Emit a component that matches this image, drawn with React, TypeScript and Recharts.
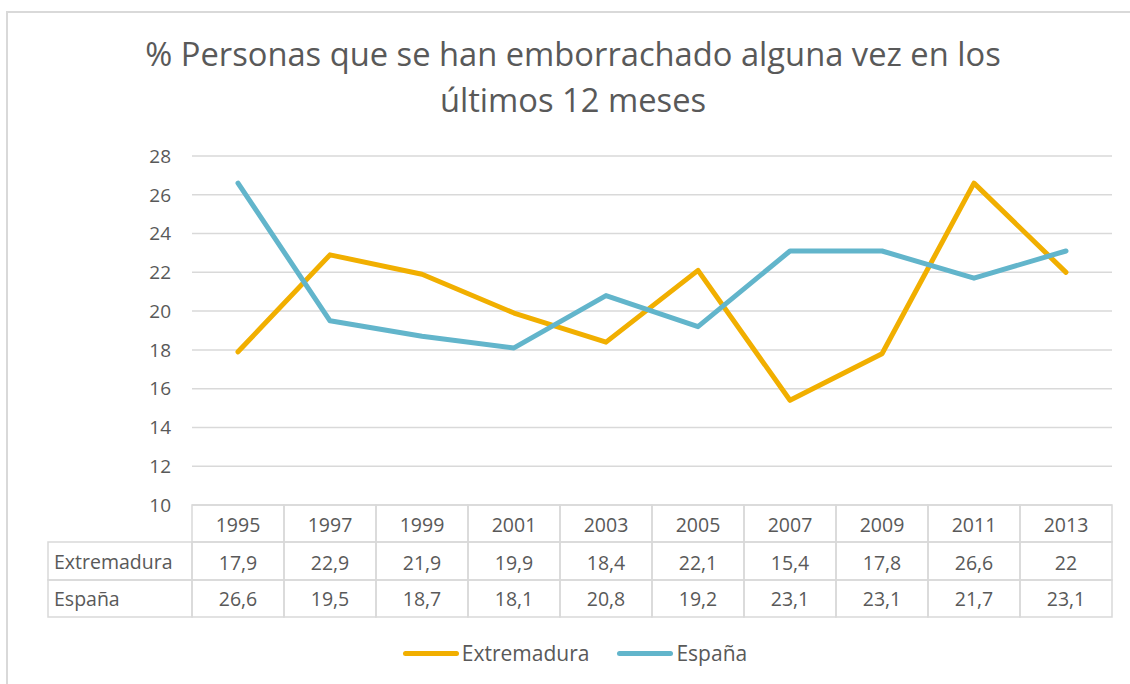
import { LineChart, Line, XAxis, YAxis, CartesianGrid, Legend } from 'recharts'

const years = ['1995', '1997', '1999', '2001', '2003', '2005', '2007', '2009', '2011', '2013']
const extremadura = [17.9, 22.9, 21.9, 19.9, 18.4, 22.1, 15.4, 17.8, 26.6, 22]
const espana = [26.6, 19.5, 18.7, 18.1, 20.8, 19.2, 23.1, 23.1, 21.7, 23.1]
const yTicks = [10, 12, 14, 16, 18, 20, 22, 24, 26, 28]

const seriesInfo = [
  { key: 'extremadura', name: 'Extremadura', color: '#F1AF00', values: extremadura },
  { key: 'espana', name: 'España', color: '#62B5CB', values: espana },
]

const data = years.map((year, i) => ({
  year,
  extremadura: extremadura[i],
  espana: espana[i],
}))

const FONT = '"Open Sans", "Noto Sans", sans-serif'
const TEXT = '#595959'
const BORDER = '#d9d9d9'
const HALF = 46
const LABEL_W = 144
const ROWS = [37, 38, 37]

const fmt = (v: number) => String(v).replace('.', ',')

// the data table drawn under the plot, one column per category tick
function TableTick(props: any) {
  const { x, y, payload } = props
  const i = payload.index
  const r1 = y + ROWS[0]
  const r2 = r1 + ROWS[1]
  const cell = { fill: 'none', stroke: BORDER, strokeWidth: 1.5 }
  const txt = { fill: TEXT, fontSize: 19.5, fontFamily: FONT, textAnchor: 'middle' as const, dominantBaseline: 'central' as const }
  return (
    <g>
      <rect x={x - HALF} y={y} width={HALF * 2} height={ROWS[0]} {...cell} />
      <rect x={x - HALF} y={r1} width={HALF * 2} height={ROWS[1]} {...cell} />
      <rect x={x - HALF} y={r2} width={HALF * 2} height={ROWS[2]} {...cell} />
      <text x={x} y={y + ROWS[0] / 2 + 1} {...txt}>{payload.value}</text>
      <text x={x} y={r1 + ROWS[1] / 2 + 1} {...txt}>{fmt(seriesInfo[0].values[i])}</text>
      <text x={x} y={r2 + ROWS[2] / 2} {...txt}>{fmt(seriesInfo[1].values[i])}</text>
      {i === 0 && (
        <g>
          <rect x={x - HALF - LABEL_W} y={r1} width={LABEL_W} height={ROWS[1]} {...cell} />
          <rect x={x - HALF - LABEL_W} y={r2} width={LABEL_W} height={ROWS[2]} {...cell} />
          <text x={x - HALF - LABEL_W + 6} y={r1 + ROWS[1] / 2} {...txt} textAnchor="start">{seriesInfo[0].name}</text>
          <text x={x - HALF - LABEL_W + 6} y={r2 + ROWS[2] / 2} {...txt} textAnchor="start">{seriesInfo[1].name}</text>
        </g>
      )}
    </g>
  )
}

function LegendContent() {
  return (
    <div style={{ display: 'flex', justifyContent: 'center', alignItems: 'center', fontFamily: FONT, fontSize: 21, color: TEXT, paddingLeft: 20 }}>
      {seriesInfo.map((s, i) => (
        <div key={s.key} style={{ display: 'flex', alignItems: 'center', marginLeft: i ? 28 : 0 }}>
          <span style={{ display: 'inline-block', width: 56, height: 5, borderRadius: 3, background: s.color, marginRight: 3 }} />
          <span>{s.name}</span>
        </div>
      ))}
    </div>
  )
}

export default function App() {
  return (
    <div style={{ position: 'fixed', left: 0, top: 0, width: 1130, height: 684, overflow: 'hidden', background: '#fff' }}>
      <div style={{ position: 'absolute', left: 6, top: 11, width: 1140, height: 700, border: `2px solid ${BORDER}` }} />
      <div
        style={{
          position: 'absolute',
          left: 0,
          top: 31,
          width: 1146,
          textAlign: 'center',
          fontFamily: FONT,
          fontSize: 32.7,
          lineHeight: '46px',
          color: TEXT,
        }}
      >
        % Personas que se han emborrachado alguna vez en los
        <br />
        últimos 12 meses
      </div>
      <div style={{ position: 'absolute', left: 0, top: 0 }}>
        <LineChart width={1130} height={684} data={data} margin={{ top: 156, right: 18, left: 140, bottom: 67 }}>
          <CartesianGrid vertical={false} stroke={BORDER} strokeWidth={1.5} />
          <XAxis
            dataKey="year"
            interval={0}
            height={112}
            axisLine={false}
            tickLine={false}
            tickSize={0}
            tickMargin={0}
            padding={{ left: HALF, right: HALF }}
            tick={<TableTick />}
          />
          <YAxis
            domain={[10, 28]}
            ticks={yTicks}
            width={52}
            axisLine={false}
            tickLine={false}
            tickSize={0}
            tickMargin={21}
            tick={{ fill: TEXT, fontSize: 19, fontFamily: FONT }}
          />
          <Legend
            verticalAlign="middle"
            align="center"
            layout="horizontal"
            wrapperStyle={{ top: 639, left: 0, width: 1130 }}
            content={<LegendContent />}
          />
          {seriesInfo.map((s) => (
            <Line
              key={s.key}
              type="linear"
              dataKey={s.key}
              name={s.name}
              stroke={s.color}
              strokeWidth={5}
              strokeLinecap="round"
              strokeLinejoin="round"
              dot={false}
              activeDot={false}
              isAnimationActive={false}
            />
          ))}
        </LineChart>
      </div>
    </div>
  )
}
